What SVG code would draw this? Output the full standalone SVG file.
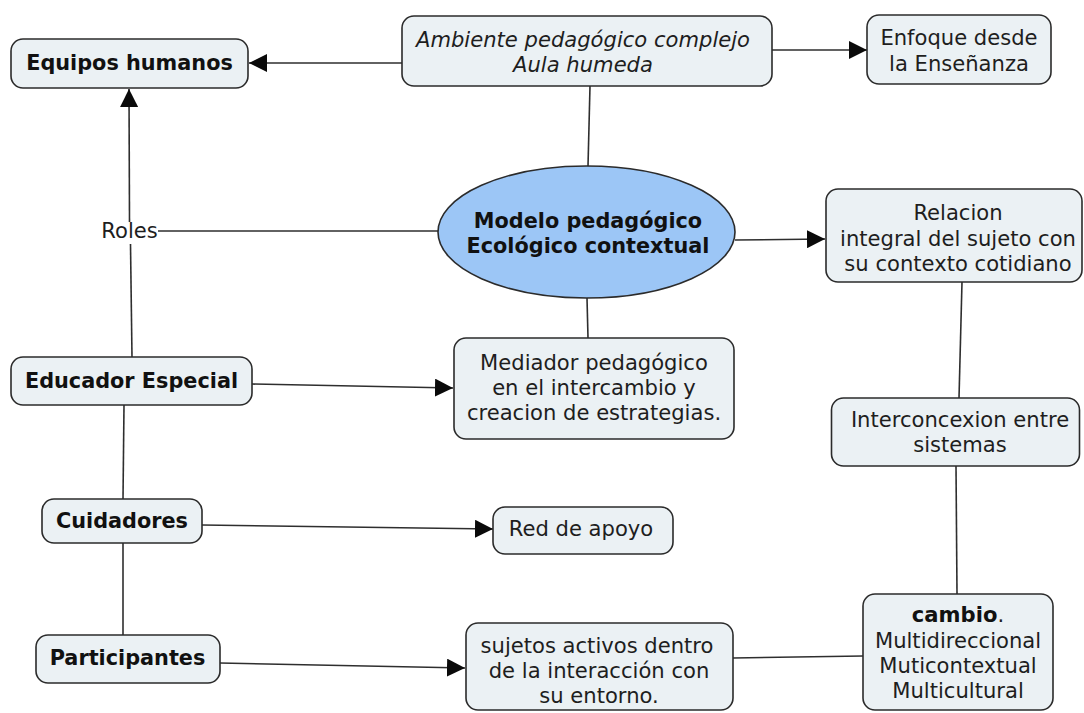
<svg xmlns="http://www.w3.org/2000/svg" width="1084" height="713" viewBox="0 0 1084 713">
<style>
.box{fill:#ebf1f4;stroke:#2b2b2b;stroke-width:1.6}
.ell{fill:#9cc6f6;stroke:#2b2b2b;stroke-width:1.6}
.t{font-family:"DejaVu Sans","Verdana",sans-serif;font-size:21.1px;fill:#1e1e1e;text-anchor:middle}
.b{font-family:"DejaVu Sans","Verdana",sans-serif;font-size:20.8px;font-weight:bold;fill:#111;text-anchor:middle}
.i{font-style:italic}
.c{fill:none;stroke:#2e2e2e;stroke-width:1.6}
.a{marker-end:url(#arr)}
</style>
<defs>
<marker id="arr" markerUnits="userSpaceOnUse" markerWidth="19" markerHeight="18" refX="18" refY="9" orient="auto">
<path d="M0,0 L18,9 L0,18 z" fill="#0a0a0a"/>
</marker>
</defs>
<rect width="1084" height="713" fill="#ffffff"/>
<g id="connectors">
<line class="c a" x1="402" y1="63" x2="249" y2="63"/>
<line class="c a" x1="772" y1="50" x2="867" y2="50"/>
<line class="c" x1="590" y1="86" x2="588" y2="166"/>
<line class="c" x1="438" y1="231" x2="158" y2="231"/>
<line class="c a" x1="129.5" y1="222" x2="129" y2="89"/>
<line class="c" x1="132" y1="357" x2="130.5" y2="244"/>
<line class="c a" x1="735" y1="240" x2="825" y2="239"/>
<line class="c" x1="587" y1="298" x2="588" y2="338"/>
<line class="c a" x1="252" y1="384" x2="453" y2="388"/>
<line class="c" x1="124" y1="405" x2="123" y2="499"/>
<line class="c a" x1="202" y1="525" x2="493" y2="529"/>
<line class="c" x1="123" y1="543" x2="123" y2="635"/>
<line class="c a" x1="220" y1="663" x2="465" y2="668"/>
<line class="c" x1="962" y1="282" x2="959" y2="398"/>
<line class="c" x1="956" y1="466" x2="957" y2="594"/>
<line class="c" x1="733" y1="658" x2="863" y2="656"/>
</g>
<g id="roles">
<text class="t" x="129.5" y="238">Roles</text>
</g>
<g id="equipos">
<rect class="box" x="11" y="39" width="237" height="49" rx="12"/>
<text class="b" x="129.5" y="70">Equipos humanos</text>
</g>
<g id="ambiente">
<rect class="box" x="402" y="16" width="370" height="70" rx="12"/>
<text class="t i" x="583" y="47">Ambiente pedagógico complejo</text>
<text class="t i" x="583" y="72">Aula humeda</text>
</g>
<g id="enfoque">
<rect class="box" x="867" y="15" width="184" height="69" rx="12"/>
<text class="t" x="959" y="45">Enfoque desde</text>
<text class="t" x="959" y="71">la Enseñanza</text>
</g>
<g id="modelo">
<ellipse class="ell" cx="586.5" cy="232" rx="148.5" ry="66"/>
<text class="b" x="588" y="228">Modelo pedagógico</text>
<text class="b" x="588" y="253">Ecológico contextual</text>
</g>
<g id="relacion">
<rect class="box" x="826" y="189" width="256" height="93" rx="12"/>
<text class="t" x="958" y="220">Relacion</text>
<text class="t" x="958" y="245.5">integral del sujeto con</text>
<text class="t" x="958" y="271">su contexto cotidiano</text>
</g>
<g id="educador">
<rect class="box" x="11" y="357" width="241" height="48" rx="12"/>
<text class="b" x="131.5" y="388">Educador Especial</text>
</g>
<g id="mediador">
<rect class="box" x="454" y="338" width="280" height="101" rx="12"/>
<text class="t" x="594" y="370">Mediador pedagógico</text>
<text class="t" x="594" y="395">en el intercambio y</text>
<text class="t" x="594" y="420">creacion de estrategias.</text>
</g>
<g id="interconcexion">
<rect class="box" x="831.5" y="398" width="248" height="68" rx="12"/>
<text class="t" x="960" y="427">Interconcexion entre</text>
<text class="t" x="960" y="452">sistemas</text>
</g>
<g id="cuidadores">
<rect class="box" x="42" y="499" width="160" height="44" rx="12"/>
<text class="b" x="122" y="528">Cuidadores</text>
</g>
<g id="red">
<rect class="box" x="493" y="507" width="180" height="47" rx="12"/>
<text class="t" x="581" y="536">Red de apoyo</text>
</g>
<g id="participantes">
<rect class="box" x="36" y="635" width="184" height="48" rx="12"/>
<text class="b" x="127.5" y="665">Participantes</text>
</g>
<g id="sujetos">
<rect class="box" x="466" y="623" width="267" height="87" rx="12"/>
<text class="t" x="597" y="653">sujetos activos dentro</text>
<text class="t" x="599" y="678">de la interacción con</text>
<text class="t" x="599" y="703">su entorno.</text>
</g>
<g id="cambio">
<rect class="box" x="863" y="594" width="190" height="116" rx="12"/>
<text class="t" x="958" y="622"><tspan font-weight="bold" fill="#111">cambio</tspan>.</text>
<text class="t" x="958" y="648">Multidireccional</text>
<text class="t" x="958" y="673">Muticontextual</text>
<text class="t" x="958" y="698">Multicultural</text>
</g>
</svg>
